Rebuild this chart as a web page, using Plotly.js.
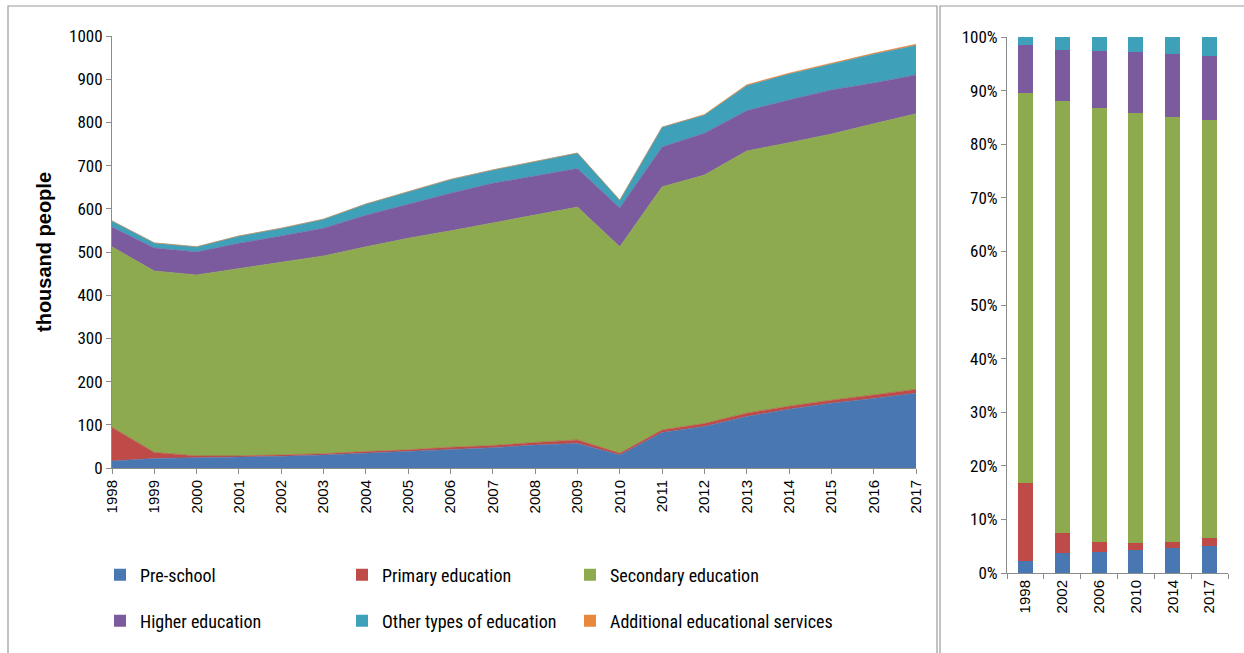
<!DOCTYPE html>
<html>
<head>
<meta charset="utf-8">
<script src="https://cdn.plot.ly/plotly-3.0.1.min.js"></script>
<style>
html,body{margin:0;padding:0;background:#fff;}
#chart{width:1244px;height:653px;}
</style>
</head>
<body>
<div id="chart"></div>
<script>
// ---- Data: left stacked area chart (thousand people) ----
const years = [1998,1999,2000,2001,2002,2003,2004,2005,2006,2007,2008,2009,2010,2011,2012,2013,2014,2015,2016,2017];
const preSchool  = [16,22,24,25,27,30,34,38,42,47,53,57,30,82,96,119,136,150,161,173];
const primary    = [78,14,4,3,3,3,4,4,6,5,6,8,4,6,7,8,7,7,8,9];
const secondary  = [418,420,419,434,447,458,474,490,501,515,526,539,478,563,575,607,610,616,628,638];
const higher     = [46,53,53,58,60,64,73,79,87,92,91,89,90,92,97,93,99,102,94,90];
const otherTypes = [14,12,12,17,18,21,26,28,32,31,33,36,18,46,42,58,60,60,67,68];
const additional = [0,0,0,0,0,0,0,0,0,0,0,0,0,0,1,2,2,2,2,3];

// ---- Data: right 100% stacked bars (share, %) ----
const barYears = ['1998','2002','2006','2010','2014','2017'];
const preSchoolPct  = [2.2,3.7,3.9,4.3,4.6,5.1];
const primaryPct    = [14.6,3.7,1.9,1.3,1.2,1.4];
const secondaryPct  = [72.7,80.7,81.0,80.2,79.3,78.0];
const higherPct     = [9.0,9.5,10.6,11.4,11.7,12.0];
const otherPct      = [1.5,2.4,2.6,2.8,3.2,3.5];
const additionalPct = [0,0,0,0,0,0];

const seriesNames = ['Pre-school','Primary education','Secondary education','Higher education','Other types of education','Additional educational services'];
const colors = ['#4877B2','#BE4B48','#8DAA4E','#7B5A9E','#3FA0BA','#E8883C'];

const areaData = [preSchool, primary, secondary, higher, otherTypes, additional];
const barData = [preSchoolPct, primaryPct, secondaryPct, higherPct, otherPct, additionalPct];
const legendIds = ['legend','legend2','legend3','legend4','legend5','legend6'];

const NARROW = '"Liberation Sans Narrow", "Arial Narrow", "Roboto Condensed", sans-serif';
const WIDE = '"Liberation Sans", Arial, sans-serif';

const W = 1244, H = 653;
const px = v => v / W;
const py = v => 1 - v / H;

const traces = [];
areaData.forEach((vals, i) => {
  traces.push({
    type: 'scatter', mode: 'lines', x: years, y: vals,
    stackgroup: 'one', name: seriesNames[i],
    line: {width: 0.6, color: colors[i]},
    fillcolor: colors[i], showlegend: false,
    xaxis: 'x', yaxis: 'y', hoverinfo: 'x+y+name'
  });
});
barData.forEach((vals, i) => {
  traces.push({
    type: 'bar', x: barYears, y: vals, name: seriesNames[i],
    marker: {color: colors[i], line: {width: 0}},
    width: 0.41, showlegend: true, legend: legendIds[i],
    xaxis: 'x2', yaxis: 'y2'
  });
});

const axisCommon = {
  showgrid: false, zeroline: false, showline: true,
  linecolor: '#8c8c8c', linewidth: 1,
  ticks: 'outside', ticklen: 5, tickcolor: '#8c8c8c', tickwidth: 1
};

const legendPos = [[100,575],[342,575],[570,575],[100,621],[342,621],[570,621]];

const layout = {
  width: W, height: H,
  margin: {l:0, r:0, t:0, b:0},
  paper_bgcolor: '#fff', plot_bgcolor: 'rgba(0,0,0,0)',
  barmode: 'stack',
  xaxis: Object.assign({}, axisCommon, {
    domain: [px(112), px(916)], range: [1998, 2017],
    tickmode: 'linear', tick0: 1998, dtick: 1, tickangle: -90,
    tickfont: {family: WIDE, size: 15, color: '#000'}
  }),
  yaxis: Object.assign({}, axisCommon, {
    domain: [py(468), py(36)], range: [0, 1000],
    tickmode: 'linear', tick0: 0, dtick: 100,
    tickfont: {family: NARROW, size: 17, color: '#000'},
    title: {text: 'thousand people', font: {family: WIDE, size: 20, color: '#000', weight: 'bold'}, standoff: 12}
  }),
  xaxis2: Object.assign({}, axisCommon, {
    domain: [px(1007), px(1228)], type: 'category', range: [-0.5, 5.5],
    tickson: 'boundaries', tickangle: -90, anchor: 'y2',
    tickfont: {family: WIDE, size: 15, color: '#000'}
  }),
  yaxis2: Object.assign({}, axisCommon, {
    domain: [py(573), py(37)], range: [0, 100], anchor: 'x2',
    tickmode: 'linear', tick0: 0, dtick: 10, ticksuffix: '%',
    tickfont: {family: NARROW, size: 17, color: '#000'}
  }),
  shapes: [
    {type: 'rect', xref: 'paper', yref: 'paper', x0: px(8), x1: px(937), y0: py(680), y1: py(6),
     line: {color: '#9a9a9a', width: 1.2}},
    {type: 'rect', xref: 'paper', yref: 'paper', x0: px(940), x1: px(1260), y0: py(680), y1: py(6),
     line: {color: '#9a9a9a', width: 1.2}}
  ],
  showlegend: true
};

legendIds.forEach((id, i) => {
  layout[id] = {
    x: px(legendPos[i][0]), y: py(legendPos[i][1]),
    xanchor: 'left', yanchor: 'middle',
    orientation: 'v', bgcolor: 'rgba(0,0,0,0)', borderwidth: 0,
    itemwidth: 30, itemclick: false, itemdoubleclick: false,
    font: {family: NARROW, size: 18, color: '#000'}
  };
});

Plotly.newPlot('chart', traces, layout, {displayModeBar: false, staticPlot: true});
</script>
</body>
</html>
